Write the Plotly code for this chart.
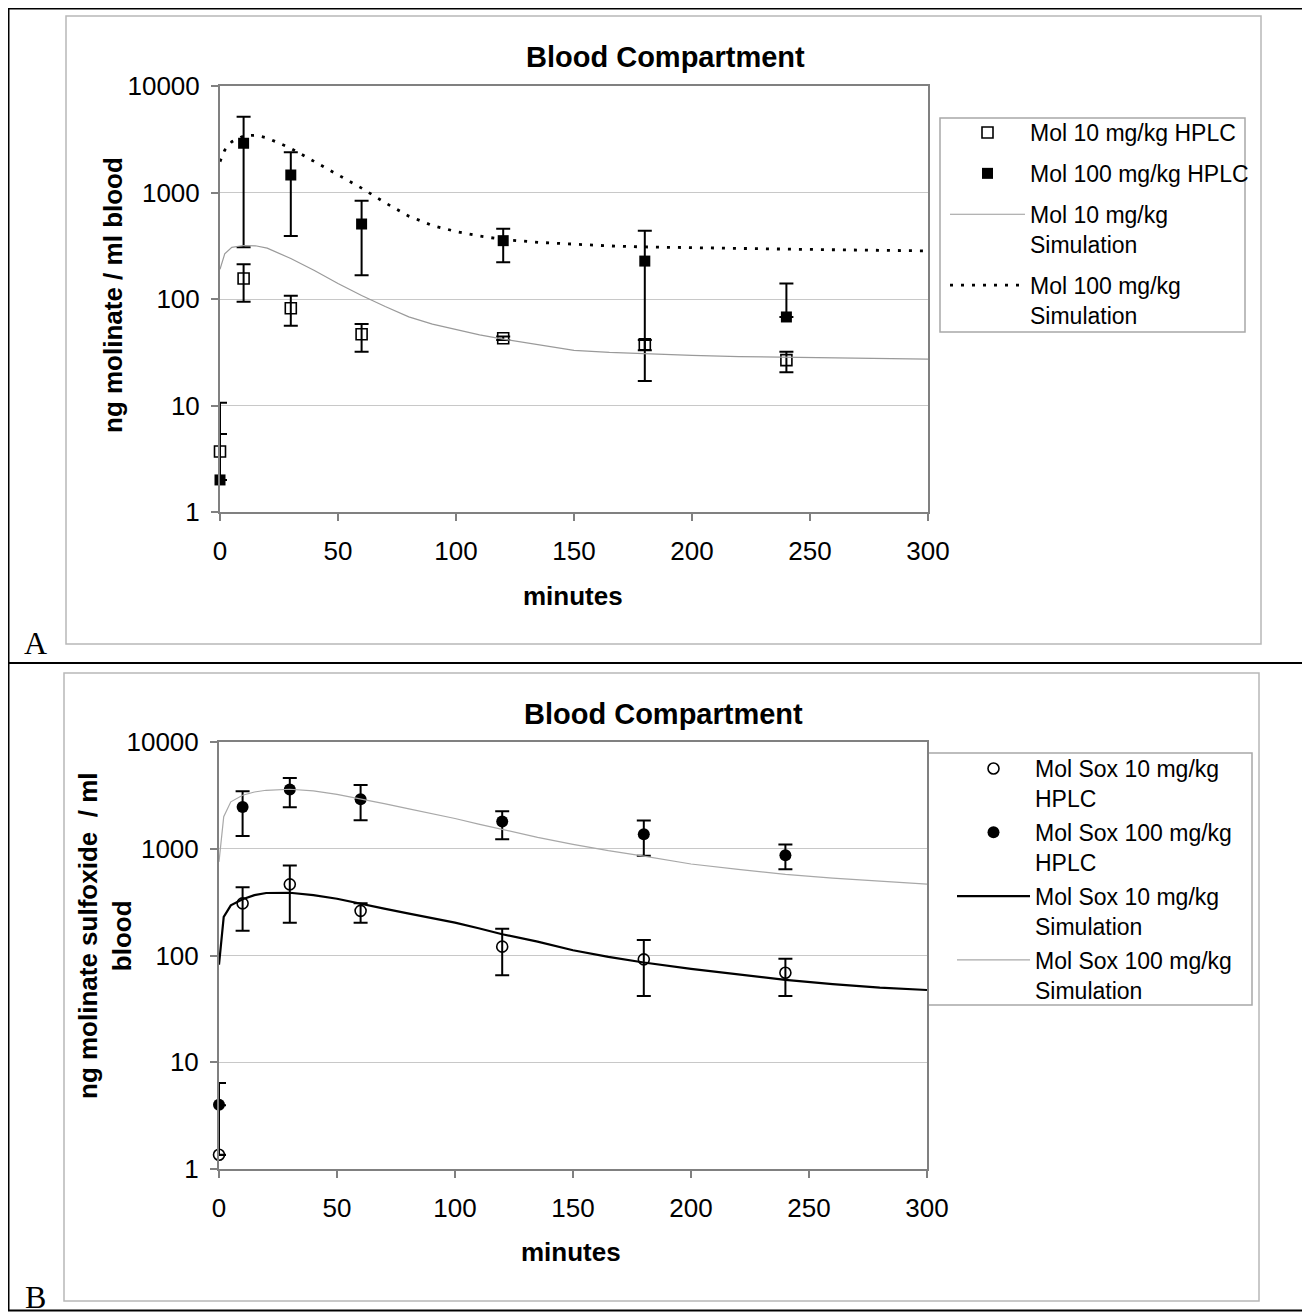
import plotly.graph_objects as go

W, H = 1310, 1315
OX, OY = 8, 8  # page body margin offset
FONT = "Liberation Sans, Arial, sans-serif"

# ---------------- Panel A data (molinate) ----------------
t_obs = [0, 10, 30, 60, 120, 180, 240]
molA10 = [3.7, 156, 82, 46.6, 42.8, 37.5, 26.7]
molA10_plus = [1.7, 56, 25, 11.6, 1.6, 3.7, 5.3]
molA10_minus = [1.7, 62, 26, 14.6, 1.6, 4.5, 6.2]
molA100 = [2.0, 2900, 1460, 506, 353, 227, 67.8]
molA100_plus = [8.6, 2250, 925, 332, 104, 211, 72]
molA100_minus = [0, 2594, 1069, 339, 132, 210, 0]

t_sim = [0, 2, 5, 10, 15, 20, 30, 40, 50, 60, 70, 80, 90, 100, 110, 120,
         135, 150, 165, 180, 200, 220, 240, 260, 280, 300]
simA10 = [190, 265, 305, 318, 316, 300, 240, 185, 140, 108, 85, 68, 58, 52, 46, 42,
          37, 33, 31.5, 30.5, 29.5, 28.8, 28.3, 27.8, 27.5, 27.2]
simA100 = [1950, 2500, 3000, 3400, 3450, 3250, 2600, 1950, 1450, 1100, 800, 600, 490, 430, 390, 362,
           340, 325, 315, 308, 302, 298, 294, 290, 287, 283]

# ---------------- Panel B data (molinate sulfoxide) ----------------
molB10 = [1.36, 308, 464, 262, 121, 92, 69]
molB10_plus = [2.6, 127, 234, 46, 57, 48, 24.4]
molB10_minus = [0, 137, 261, 59, 55.7, 50.2, 27.2]
molB100 = [4.0, 2466, 3589, 2911, 1800, 1370, 871]
molB100_plus = [2.4, 992, 1017, 1051, 448, 470, 226]
molB100_minus = [2.65, 1146, 1140, 1059, 570, 511, 227]

simB10 = [82, 230, 295, 336, 368, 385, 387, 368, 340, 308, 275, 248, 225, 203, 180, 158,
          135, 112, 97, 86, 75, 66, 59, 54, 50, 47.5]
simB100 = [754, 2000, 2750, 3170, 3400, 3530, 3610, 3480, 3230, 2950, 2650, 2380, 2150, 1920, 1700, 1510,
           1280, 1100, 960, 853, 720, 640, 575, 530, 495, 467]

y_tickvals = [1, 10, 100, 1000, 10000]
y_ticktext = ["1", "10", "100", "1000", "10000"]
x_tickvals = [0, 50, 100, 150, 200, 250, 300]


def fx(x):
    return (x - OX) / W


def fy(y):
    return 1 - (y - OY) / H


fig = go.Figure()


def err(plus, minus):
    return dict(type="data", symmetric=False, array=plus, arrayminus=minus,
                color="black", thickness=2, width=7)


# Panel A traces
fig.add_trace(go.Scatter(x=t_obs, y=molA10, mode="markers", name="Mol 10 mg/kg HPLC",
                         marker=dict(symbol="square-open", size=11, color="black", line=dict(width=1.6)),
                         error_y=err(molA10_plus, molA10_minus), cliponaxis=False,
                         xaxis="x", yaxis="y", legend="legend", legendgroup="a1"))
fig.add_trace(go.Scatter(x=t_obs, y=molA100, mode="markers", name="Mol 100 mg/kg HPLC",
                         marker=dict(symbol="square", size=11, color="black"),
                         error_y=err(molA100_plus, molA100_minus), cliponaxis=False,
                         xaxis="x", yaxis="y", legend="legend", legendgroup="a2"))
fig.add_trace(go.Scatter(x=t_sim, y=simA10, mode="lines", name="Mol 10 mg/kg<br>Simulation",
                         line=dict(color="#9a9a9a", width=1.2),
                         xaxis="x", yaxis="y", legend="legend", legendgroup="a3"))
fig.add_trace(go.Scatter(x=t_sim, y=simA100, mode="lines", name="Mol 100 mg/kg<br>Simulation",
                         line=dict(color="black", width=2.8, dash="3px,8px"),
                         xaxis="x", yaxis="y", legend="legend", legendgroup="a4"))

# Panel B traces
fig.add_trace(go.Scatter(x=t_obs, y=molB10, mode="markers", name="Mol Sox 10 mg/kg<br>HPLC",
                         marker=dict(symbol="circle-open", size=11, color="black", line=dict(width=1.6)),
                         error_y=err(molB10_plus, molB10_minus), cliponaxis=False,
                         xaxis="x2", yaxis="y2", legend="legend2", legendgroup="b1"))
fig.add_trace(go.Scatter(x=t_obs, y=molB100, mode="markers", name="Mol Sox 100 mg/kg<br>HPLC",
                         marker=dict(symbol="circle", size=12, color="black"),
                         error_y=err(molB100_plus, molB100_minus), cliponaxis=False,
                         xaxis="x2", yaxis="y2", legend="legend2", legendgroup="b2"))
fig.add_trace(go.Scatter(x=t_sim, y=simB10, mode="lines", name="Mol Sox 10 mg/kg<br>Simulation",
                         line=dict(color="black", width=2.2),
                         xaxis="x2", yaxis="y2", legend="legend2", legendgroup="b3"))
fig.add_trace(go.Scatter(x=t_sim, y=simB100, mode="lines", name="Mol Sox 100 mg/kg<br>Simulation",
                         line=dict(color="#a8a8a8", width=1.2),
                         xaxis="x2", yaxis="y2", legend="legend2", legendgroup="b4"))

axis_common = dict(showline=True, linecolor="#808080", linewidth=2, mirror=True,
                   ticks="outside", ticklen=7, tickcolor="#808080", tickwidth=1.5,
                   automargin=False,
                   tickfont=dict(family=FONT, size=26, color="black"))

xa = dict(axis_common, range=[0, 300], tickvals=x_tickvals, showgrid=False, zeroline=False,
          ticklabelstandoff=8)
ya = dict(axis_common, type="log", range=[0, 4], tickvals=y_tickvals, ticktext=y_ticktext,
          showgrid=True, gridcolor="#c8c8c8", gridwidth=1.2, ticklabelstandoff=6)

legend_common = dict(bgcolor="rgba(0,0,0,0)", borderwidth=0, font=dict(family=FONT, size=23, color="black"),
                     xanchor="left", yanchor="top", valign="top",
                     itemclick=False, itemdoubleclick=False)

fig.update_layout(
    width=W, height=H, autosize=False,
    margin=dict(l=0, r=0, t=0, b=0, pad=0, autoexpand=False),
    paper_bgcolor="white", plot_bgcolor="white",
    xaxis=dict(xa, domain=[fx(220), fx(928)], anchor="y"),
    yaxis=dict(ya, domain=[fy(512), fy(86)], anchor="x"),
    xaxis2=dict(xa, domain=[fx(219), fx(927)], anchor="y2"),
    yaxis2=dict(ya, domain=[fy(1169), fy(742)], anchor="x2"),
    legend=dict(legend_common, x=fx(945), y=fy(111), itemwidth=75, tracegroupgap=8),
    legend2=dict(legend_common, x=fx(952), y=fy(747), itemwidth=73, tracegroupgap=1),
    showlegend=True,
)

shapes = [
    # outer frame and divider
    dict(type="rect", x0=fx(8.5), x1=fx(1304), y0=fy(8.5), y1=fy(1310.5), line=dict(color="black", width=2)),
    dict(type="line", x0=fx(8.5), x1=fx(1304), y0=fy(663), y1=fy(663), line=dict(color="black", width=2)),
    # chart area boxes
    dict(type="rect", x0=fx(66), x1=fx(1261), y0=fy(16), y1=fy(644), line=dict(color="#b8b8b8", width=1.5)),
    dict(type="rect", x0=fx(64), x1=fx(1259), y0=fy(673), y1=fy(1301), line=dict(color="#b8b8b8", width=1.5)),
    # legend boxes
    dict(type="rect", x0=fx(940), x1=fx(1245), y0=fy(118), y1=fy(332), line=dict(color="#a8a8a8", width=1.5),
         fillcolor="white", layer="below"),
    dict(type="rect", x0=fx(928), x1=fx(1252), y0=fy(753), y1=fy(1005), line=dict(color="#a8a8a8", width=1.5),
         fillcolor="white", layer="below"),
]
for s in shapes:
    s.update(xref="paper", yref="paper")
fig.update_layout(shapes=shapes)

ann = []


def add_text(text, x, y, size, bold=False, angle=0, family=FONT):
    ann.append(dict(text=("<b>%s</b>" % text) if bold else text, x=fx(x), y=fy(y),
                    xref="paper", yref="paper", showarrow=False, textangle=angle,
                    xanchor="center", yanchor="middle",
                    font=dict(family=family, size=size, color="black")))


add_text("Blood Compartment", 665, 57, 29, bold=True)
add_text("Blood Compartment", 663, 714, 29, bold=True)
add_text("minutes", 573, 596, 26, bold=True)
add_text("minutes", 571, 1252, 26, bold=True)
add_text("ng molinate / ml blood", 113, 295, 26, bold=True, angle=-90)
add_text("ng molinate sulfoxide  / ml<br>blood", 105, 936, 26, bold=True, angle=-90)
add_text("A", 35, 643, 32, family="Liberation Serif, Times New Roman, serif")
add_text("B", 35, 1297, 32, family="Liberation Serif, Times New Roman, serif")
fig.update_layout(annotations=ann)

fig.write_html("out.html")
